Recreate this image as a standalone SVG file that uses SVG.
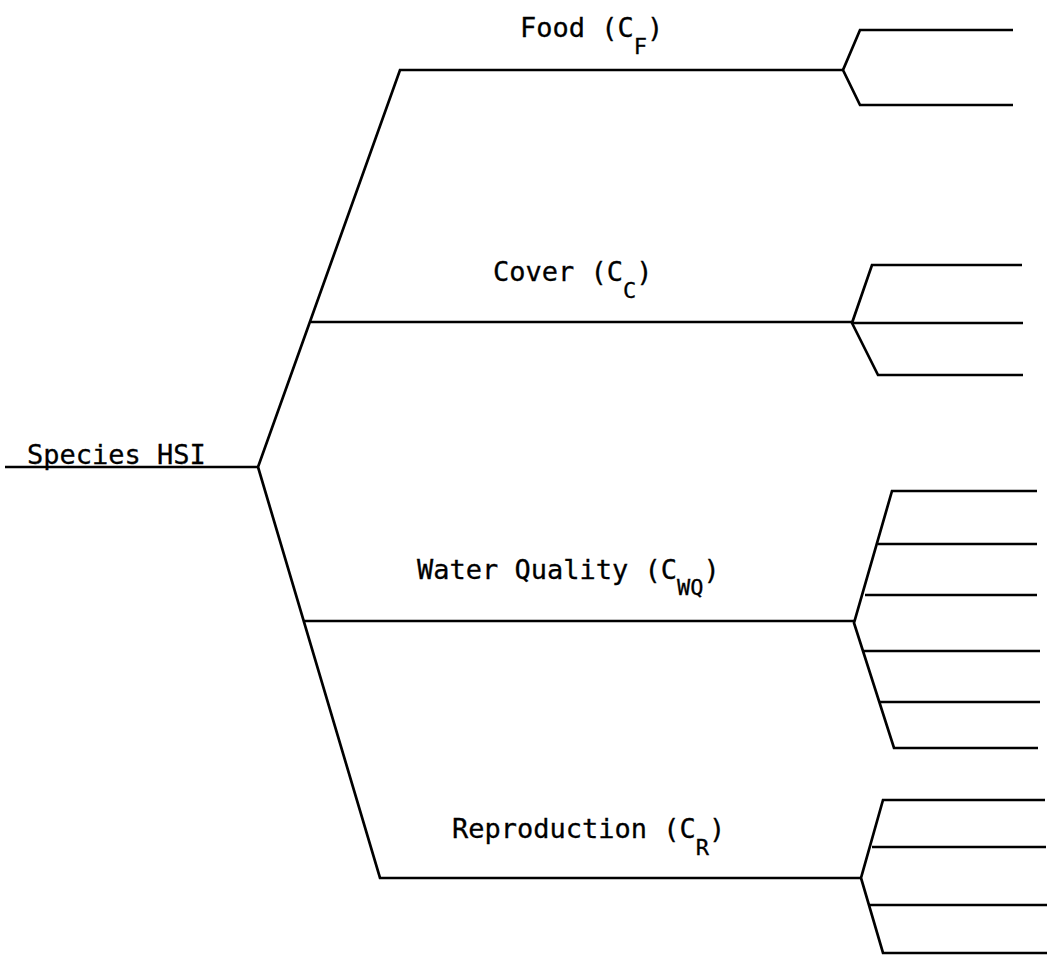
<svg xmlns="http://www.w3.org/2000/svg" width="1053" height="955" viewBox="0 0 1053 955">
<style>
.ln{fill:none;stroke:#000;stroke-width:2.7;stroke-linejoin:miter;stroke-linecap:butt}
.t{font-family:"DejaVu Sans Mono","Liberation Mono",monospace;font-size:27px;fill:#000;stroke:#000;stroke-width:0.3}
.s{font-size:22px}
</style>
<rect width="1053" height="955" fill="#fff"/>
<g id="connectors">
<path class="ln" d="M5,467 H258"/>
<path class="ln" d="M843,70 H400 L258,467 L380,878 H862"/>
<path class="ln" d="M311,322 H852"/>
<path class="ln" d="M303,621 H854"/>
<path class="ln" d="M1013,30 H860 L843,70 L860,105 H1013"/>
<path class="ln" d="M1022,265 H872 L852,323 L878,375 H1023"/>
<path class="ln" d="M852,323 H1023"/>
<path class="ln" d="M1037,491 H892 L854,623 L894,748 H1038"/>
<path class="ln" d="M878,544 H1037"/>
<path class="ln" d="M865,595 H1037"/>
<path class="ln" d="M864,651 H1040"/>
<path class="ln" d="M880,702 H1040"/>
<path class="ln" d="M1045,800 H883 L861,878 L883,953 H1047"/>
<path class="ln" d="M872,847 H1046"/>
<path class="ln" d="M869,905 H1047"/>
</g>
<g id="species-hsi"><text class="t" x="27" y="464">Species HSI</text></g>
<g id="food"><text class="t" x="520" y="37">Food (C<tspan class="s" dy="17">F</tspan><tspan dy="-17">)</tspan></text></g>
<g id="cover"><text class="t" x="493" y="281">Cover (C<tspan class="s" dy="17">C</tspan><tspan dy="-17">)</tspan></text></g>
<g id="water-quality"><text class="t" x="417" y="579">Water Quality (C<tspan class="s" dy="16">WQ</tspan><tspan dy="-16">)</tspan></text></g>
<g id="reproduction"><text class="t" x="452" y="838">Reproduction (C<tspan class="s" dy="17">R</tspan><tspan dy="-17">)</tspan></text></g>
</svg>
